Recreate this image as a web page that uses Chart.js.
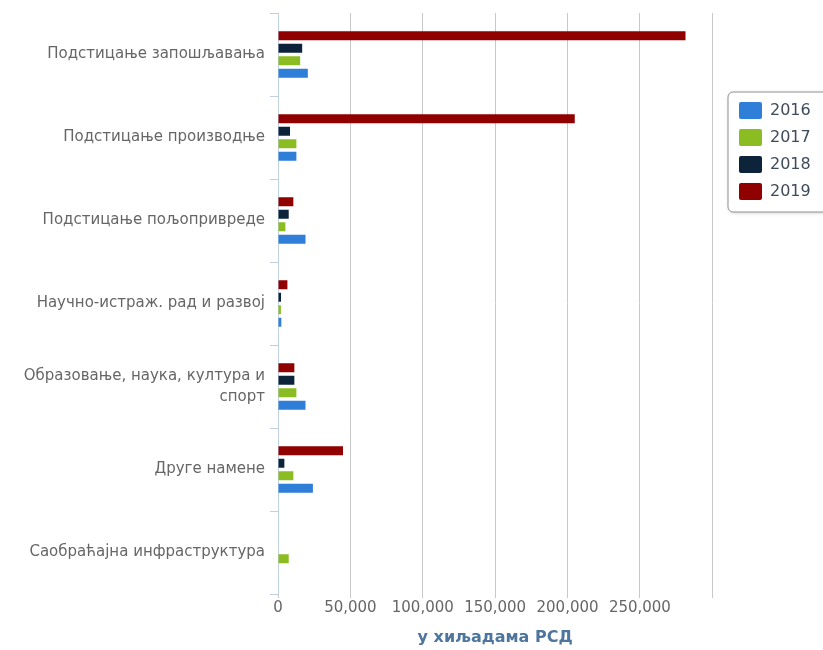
<!DOCTYPE html>
<html>
<head>
<meta charset="utf-8">
<script src="https://cdn.jsdelivr.net/npm/chart.js@4/dist/chart.umd.min.js"></script>
<style>
  html, body { margin: 0; padding: 0; background: #ffffff; }
  #wrap { position: relative; width: 823px; height: 650px; }
</style>
</head>
<body>
<div id="wrap"><canvas id="c" width="823" height="650"></canvas></div>
<script>
const categories = [
  'Подстицање запошљавања',
  'Подстицање производње',
  'Подстицање пољопривреде',
  'Научно-истраж. рад и развој',
  ['Образовање, наука, култура и', 'спорт'],
  'Друге намене',
  'Саобраћајна инфраструктура'
];
const years = ['2016', '2017', '2018', '2019'];
const values2016 = [20600, 12700, 19000, 2300, 19000, 24100, 0];
const values2017 = [15300, 12700, 5100, 2000, 12700, 10600, 7400];
const values2018 = [16700, 8300, 7400, 2100, 11300, 4400, 0];
const values2019 = [281500, 205000, 10600, 6500, 11300, 44900, 0];
const xTicks = [0, 50000, 100000, 150000, 200000, 250000, 300000];
const axisTitle = 'у хиљадама РСД';

const FONT = 'DejaVu Sans';

const legendPlugin = {
  id: 'legendShift',
  afterLayout(chart) {
    const lg = chart.legend;
    if (!lg) return;
    const dx = 729 - lg.left;
    const dy = 92 - lg.top;
    lg.left += dx; lg.right += dx;
    lg.top += dy; lg.bottom += dy;
  },
  beforeDraw(chart) {
    const lg = chart.legend;
    if (!lg) return;
    const ctx = chart.ctx;
    const x = lg.left - 1, y = lg.top, w = 130, h = 120, r = 5;
    ctx.save();
    ctx.shadowColor = 'rgba(0,0,0,0.18)';
    ctx.shadowBlur = 4;
    ctx.shadowOffsetX = 1;
    ctx.shadowOffsetY = 1;
    ctx.beginPath();
    ctx.moveTo(x + r, y);
    ctx.lineTo(x + w - r, y);
    ctx.arcTo(x + w, y, x + w, y + r, r);
    ctx.lineTo(x + w, y + h - r);
    ctx.arcTo(x + w, y + h, x + w - r, y + h, r);
    ctx.lineTo(x + r, y + h);
    ctx.arcTo(x, y + h, x, y + h - r, r);
    ctx.lineTo(x, y + r);
    ctx.arcTo(x, y, x + r, y, r);
    ctx.closePath();
    ctx.fillStyle = '#ffffff';
    ctx.fill();
    ctx.shadowColor = 'transparent';
    ctx.lineWidth = 1;
    ctx.strokeStyle = '#909090';
    ctx.stroke();
    ctx.restore();
  }
};

new Chart(document.getElementById('c'), {
  type: 'bar',
  data: {
    labels: categories,
    datasets: [
      { label: years[3], data: values2019, backgroundColor: '#910000' },
      { label: years[2], data: values2018, backgroundColor: '#0d233a' },
      { label: years[1], data: values2017, backgroundColor: '#8bbc21' },
      { label: years[0], data: values2016, backgroundColor: '#2f7ed8' }
    ]
  },
  options: {
    indexAxis: 'y',
    responsive: false,
    animation: false,
    devicePixelRatio: 1,
    layout: { padding: { top: 13, right: 19, bottom: 0, left: 0 } },
    datasets: {
      bar: { categoryPercentage: 0.6, barPercentage: 0.72, borderWidth: 0 }
    },
    plugins: {
      tooltip: { enabled: false },
      legend: {
        position: 'right',
        align: 'start',
        reverse: true,
        labels: {
          boxWidth: 23,
          boxHeight: 17,
          padding: 10,
          useBorderRadius: true,
          borderRadius: 2,
          color: '#3d4b5c',
          font: { family: FONT, size: 16 }
        }
      }
    },
    scales: {
      x: {
        type: 'linear',
        position: 'bottom',
        min: 0,
        max: 300000,
        afterBuildTicks(scale) { scale.ticks = xTicks.map(v => ({ value: v })); },
        afterFit(scale) { scale.height = 56; scale.paddingLeft = 0; scale.paddingRight = 0; },
        ticks: {
          padding: 1,
          color: '#666666',
          font: { family: FONT, size: 15 },
          callback: (v) => v === 300000 ? '' : v.toLocaleString('en-US')
        },
        grid: { color: '#c8c8c8', lineWidth: 1, tickLength: 4, drawTicks: true },
        border: { display: false },
        title: {
          display: true,
          text: axisTitle,
          color: '#4d759e',
          font: { family: FONT, size: 16, weight: 'bold' },
          padding: { top: 0, bottom: 3 }
        }
      },
      y: {
        type: 'category',
        afterFit(scale) { scale.width = 278; scale.paddingTop = 0; scale.paddingBottom = 0; },
        ticks: {
          padding: 5,
          color: '#666666',
          font: { family: FONT, size: 15, lineHeight: 1.35 }
        },
        grid: { display: true, drawOnChartArea: false, tickLength: 8, color: '#c0d0e0', offset: true },
        border: { display: true, color: '#c0d0e0', width: 1 }
      }
    }
  },
  plugins: [legendPlugin]
});
</script>
</body>
</html>
